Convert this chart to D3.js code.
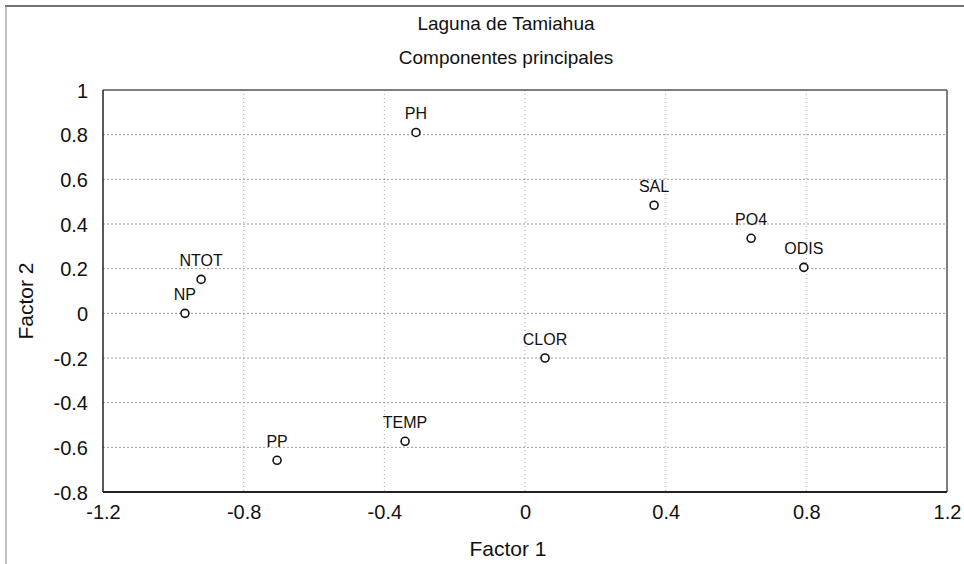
<!DOCTYPE html>
<html><head><meta charset="utf-8">
<script src="https://cdn.jsdelivr.net/npm/d3@7"></script>
<style>body{margin:0;background:#fff;} svg{display:block;font-family:"Liberation Sans",Arial,sans-serif;}</style>
</head><body>
<svg id="c" width="964" height="564"></svg>
<script>
const labels = ["PH","SAL","PO4","ODIS","NTOT","NP","CLOR","TEMP","PP"];
const factor1 = [-0.31, 0.367, 0.643, 0.793, -0.921, -0.967, 0.057, -0.341, -0.705];
const factor2 = [0.81, 0.484, 0.336, 0.206, 0.152, 0.0, -0.2, -0.573, -0.658];
const xTicks = [-1.2,-0.8,-0.4,0,0.4,0.8,1.2];
const yTicks = [-0.8,-0.6,-0.4,-0.2,0,0.2,0.4,0.6,0.8,1];

const svg = d3.select("#c");
const L=103,R=947,T=90,B=492;
const x = d3.scaleLinear().domain([-1.2,1.2]).range([L,R]);
const y = d3.scaleLinear().domain([-0.8,1]).range([B,T]);
const fmt = d => String(d);

// scan frame
svg.append("line").attr("x1",5).attr("x2",964).attr("y1",6).attr("y2",6).attr("stroke","#444").attr("stroke-width",1.5);
svg.append("line").attr("x1",6).attr("x2",6).attr("y1",6).attr("y2",564).attr("stroke","#888").attr("stroke-width",1);

// grid
const g = svg.append("g");
g.selectAll(".gx").data(xTicks.slice(1,-1)).join("line")
 .attr("x1",d=>x(d)).attr("x2",d=>x(d)).attr("y1",T).attr("y2",B)
 .attr("stroke","#aaa").attr("stroke-dasharray","1,3").attr("stroke-width",1);
g.selectAll(".gy").data(yTicks.slice(1,-1)).join("line")
 .attr("y1",d=>y(d)).attr("y2",d=>y(d)).attr("x1",L).attr("x2",R)
 .attr("stroke","#999").attr("stroke-dasharray","2,2").attr("stroke-width",1);

// axes
const xa = svg.append("g").attr("transform",`translate(0,${B})`)
 .call(d3.axisBottom(x).tickValues(xTicks).tickSize(0).tickPadding(0).tickFormat(fmt));
const ya = svg.append("g").attr("transform",`translate(${L},0)`)
 .call(d3.axisLeft(y).tickValues(yTicks).tickSize(0).tickPadding(15).tickFormat(fmt));
[xa,ya].forEach(a=>{a.select(".domain").remove(); a.selectAll("text").attr("font-size",20).attr("fill","#111").attr("font-family","Liberation Sans, Arial, sans-serif");});
xa.selectAll("text").attr("y",27).attr("dy",0);
ya.selectAll("text").attr("dy","0.36em");

// frame
svg.append("line").attr("x1",L).attr("x2",R).attr("y1",T).attr("y2",T).attr("stroke","#555").attr("stroke-width",1.5);
svg.append("line").attr("x1",R).attr("x2",R).attr("y1",T).attr("y2",B).attr("stroke","#555").attr("stroke-width",1.5);
svg.append("line").attr("x1",L).attr("x2",L).attr("y1",T).attr("y2",B).attr("stroke","#222").attr("stroke-width",1.5);
svg.append("line").attr("x1",L).attr("x2",R).attr("y1",B).attr("y2",B).attr("stroke","#222").attr("stroke-width",1.8);

// points
const data = labels.map((l,i)=>({l,fx:factor1[i],fy:factor2[i]}));
svg.selectAll(".pt").data(data).join("circle")
 .attr("cx",d=>x(d.fx)).attr("cy",d=>y(d.fy)).attr("r",4)
 .attr("fill","#fff").attr("stroke","#111").attr("stroke-width",1.6);
svg.selectAll(".lb").data(data).join("text")
 .attr("x",d=>x(d.fx)).attr("y",d=>y(d.fy)-13)
 .attr("text-anchor","middle").attr("font-size",16).attr("fill","#111").text(d=>d.l);

// titles
svg.append("text").attr("x",506).attr("y",30).attr("text-anchor","middle").attr("font-size",19).attr("fill","#111").text("Laguna de Tamiahua");
svg.append("text").attr("x",506).attr("y",64).attr("text-anchor","middle").attr("font-size",19).attr("fill","#111").text("Componentes principales");
svg.append("text").attr("x",508).attr("y",556).attr("text-anchor","middle").attr("font-size",21).attr("fill","#111").text("Factor 1");
svg.append("text").attr("transform","translate(33,301) rotate(-90)").attr("text-anchor","middle").attr("font-size",21).attr("fill","#111").text("Factor 2");
</script>
</body></html>
